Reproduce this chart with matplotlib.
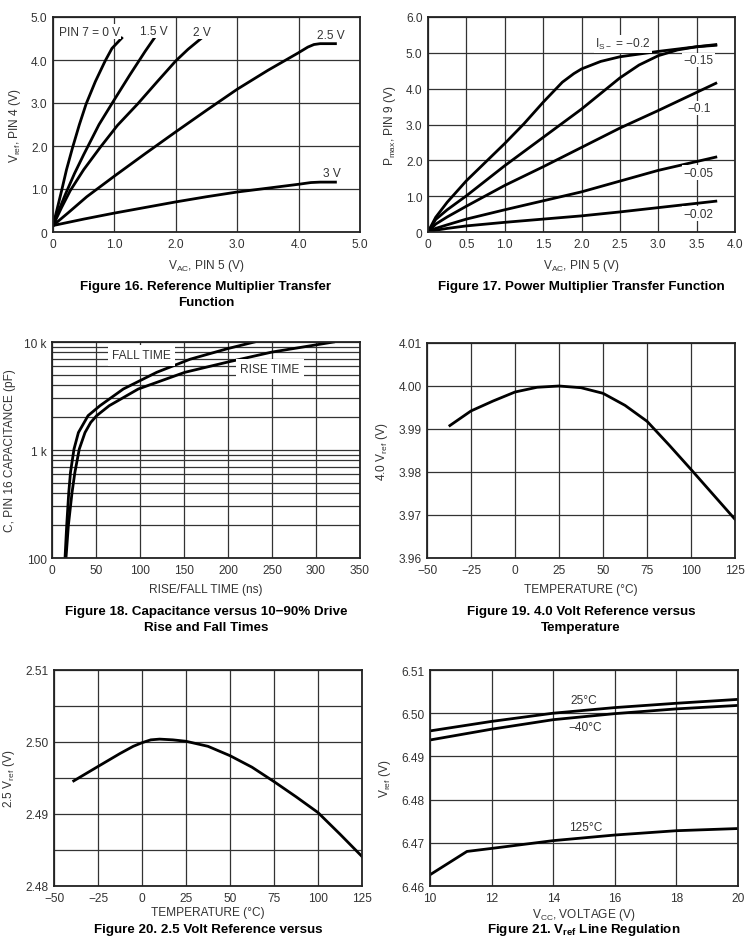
import matplotlib
matplotlib.use('Agg')
import matplotlib.pyplot as plt
import numpy as np

plt.rcParams['font.family'] = ['Liberation Sans', 'DejaVu Sans']
plt.rcParams['mathtext.fontset'] = 'custom'
plt.rcParams['mathtext.rm'] = 'Liberation Sans'
plt.rcParams['mathtext.default'] = 'regular'

# ---- Figure 16: reference multiplier ----
f16_x0 = [0, 0.07, 0.14, 0.22, 0.32, 0.43, 0.54, 0.69, 0.85, 0.96, 1.12]
f16_y0 = [0.15, 0.55, 0.96, 1.45, 1.97, 2.5, 2.98, 3.5, 3.98, 4.27, 4.51]
f16_x15 = [0, 0.1, 0.2, 0.35, 0.5, 0.75, 1.0, 1.25, 1.5, 1.65]
f16_y15 = [0.15, 0.52, 0.87, 1.36, 1.8, 2.5, 3.08, 3.65, 4.2, 4.51]
f16_x2 = [0, 0.14, 0.28, 0.5, 0.77, 1.05, 1.38, 1.7, 2.0, 2.2, 2.42]
f16_y2 = [0.15, 0.57, 0.96, 1.45, 1.97, 2.48, 2.98, 3.5, 3.98, 4.25, 4.51]
f16_x25 = [0, 0.25, 0.55, 1.0, 1.5, 2.0, 2.5, 3.0, 3.5, 4.0, 4.15, 4.25, 4.35, 4.6]
f16_y25 = [0.15, 0.45, 0.82, 1.3, 1.82, 2.33, 2.83, 3.32, 3.76, 4.17, 4.3, 4.36, 4.38, 4.38]
f16_x3 = [0, 0.5, 1.0, 1.5, 2.0, 2.5, 3.0, 3.5, 4.0, 4.2, 4.35, 4.6]
f16_y3 = [0.15, 0.3, 0.44, 0.57, 0.7, 0.82, 0.93, 1.02, 1.11, 1.15, 1.16, 1.16]
f16_labels = ['PIN 7 = 0 V', '1.5 V', '2 V', '2.5 V', '3 V']
f16_lab_x = [0.59, 1.64, 2.42, 4.53, 4.54]
f16_lab_y = [4.66, 4.68, 4.66, 4.58, 1.38]

# ---- Figure 17: power multiplier ----
f17_x02 = [0, 0.1, 0.25, 0.5, 0.75, 1.0, 1.25, 1.5, 1.75, 1.9, 2.0, 2.25, 2.5, 3.0, 3.5, 3.75]
f17_y02 = [0, 0.41, 0.83, 1.43, 1.95, 2.47, 3.02, 3.62, 4.18, 4.42, 4.55, 4.76, 4.89, 5.04, 5.17, 5.23]
f17_x015 = [0, 0.1, 0.25, 0.5, 1.0, 1.5, 2.0, 2.5, 2.75, 3.0, 3.25, 3.5, 3.75]
f17_y015 = [0, 0.35, 0.62, 1.01, 1.85, 2.64, 3.43, 4.3, 4.66, 4.92, 5.08, 5.17, 5.21]
f17_x01 = [0, 0.1, 0.25, 0.5, 1.0, 1.5, 2.0, 2.5, 3.0, 3.75]
f17_y01 = [0, 0.22, 0.42, 0.72, 1.3, 1.82, 2.36, 2.9, 3.39, 4.15]
f17_x005 = [0, 0.1, 0.25, 0.5, 1.0, 1.5, 2.0, 2.5, 3.0, 3.75]
f17_y005 = [0, 0.1, 0.2, 0.36, 0.62, 0.87, 1.12, 1.42, 1.72, 2.09]
f17_x002 = [0, 0.1, 0.25, 0.5, 1.0, 1.5, 2.0, 2.5, 3.0, 3.75]
f17_y002 = [0, 0.05, 0.1, 0.17, 0.27, 0.36, 0.45, 0.56, 0.68, 0.86]
f17_labels = ['I$_{S\u2212}$ = \u22120.2', '\u22120.15', '\u22120.1', '\u22120.05', '\u22120.02']
f17_lab_x = [2.54, 3.52, 3.53, 3.52, 3.52]
f17_lab_y = [5.26, 4.80, 3.46, 1.65, 0.51]

# ---- Figure 18: capacitance vs rise/fall ----
f18_fall_t = [14.8, 16.7, 19, 21, 25, 30, 41, 54.5, 81, 119, 157, 200, 230]
f18_fall_c = [100, 200, 400, 620, 1020, 1450, 2080, 2570, 3670, 5240, 6930, 8700, 10000]
f18_rise_t = [15.9, 18.6, 22.7, 26, 31, 37.5, 44, 50.8, 65, 98, 151, 200, 250, 320]
f18_rise_c = [100, 200, 400, 620, 1020, 1450, 1800, 2080, 2570, 3670, 5240, 6530, 8070, 10000]

# ---- Figure 19: 4.0 V reference vs temperature ----
f19_t = [-37, -25, -12.5, 0, 12.5, 25, 37.5, 50, 62.5, 75, 87.5, 100, 112.5, 125]
f19_v = [3.9908, 3.9942, 3.9965, 3.9986, 3.9997, 4.0000, 3.9996, 3.9983,
         3.9955, 3.9918, 3.9863, 3.9806, 3.9748, 3.969]

# ---- Figure 20: 2.5 V reference vs temperature ----
f20_t = [-38.8, -25, -12.5, -5, 0, 5, 10, 17.5, 25, 37.5, 50, 62.5, 75, 87.5, 100, 112.5, 125]
f20_v = [2.4946, 2.4966, 2.4984, 2.4994, 2.4999, 2.5003, 2.5004, 2.5003, 2.5001, 2.4994,
         2.4981, 2.4965, 2.4945, 2.4924, 2.4902, 2.4872, 2.4841]

# ---- Figure 21: Vref line regulation ----
f21_vcc = [10, 12, 14, 16, 18, 20]
f21_25c = [6.4959, 6.4981, 6.5000, 6.5013, 6.5023, 6.5032]
f21_m40c = [6.4938, 6.4963, 6.4985, 6.4999, 6.5010, 6.5018]
f21_vcc125 = [10, 10.6, 11.2, 12, 14, 16, 18, 20]
f21_125c = [6.4626, 6.4653, 6.4680, 6.4687, 6.4705, 6.4718, 6.4728, 6.4733]

W, H = 750, 937
fig = plt.figure(figsize=(W / 100, H / 100), dpi=100)

TICK = 8.6
LAB = 8.6
CAP = 9.6
GRAY = '#333333'


def make_ax(l, r, t, b):
    ax = fig.add_axes([l / W, 1 - b / H, (r - l) / W, (b - t) / H])
    ax.tick_params(length=0, pad=4, labelsize=TICK, colors=GRAY)
    for s in ax.spines.values():
        s.set_linewidth(1.3)
        s.set_color('#222222')
    ax.grid(True, color='#333333', lw=0.9)
    ax.set_axisbelow(True)
    return ax


def caption(x, y, txt, va='center'):
    fig.text(x / W, 1 - y / H, txt, ha='center', va=va,
             fontsize=CAP, fontweight='bold')


box = dict(facecolor='white', edgecolor='none', pad=1)

# Figure 16
ax = make_ax(53, 360, 18, 233)
for xs, ys in [(f16_x0, f16_y0), (f16_x15, f16_y15), (f16_x2, f16_y2),
               (f16_x25, f16_y25), (f16_x3, f16_y3)]:
    ax.plot(xs, ys, color='black', lw=2)
for t, x, y in zip(f16_labels, f16_lab_x, f16_lab_y):
    ax.text(x, y, t, ha='center', va='center', fontsize=TICK, color=GRAY, bbox=box)
ax.set_xlim(0, 5)
ax.set_ylim(0, 5)
ax.set_xticks(np.arange(0, 5.1, 1.0), ['0', '1.0', '2.0', '3.0', '4.0', '5.0'])
ax.set_yticks(np.arange(0, 5.1, 1.0), ['0', '1.0', '2.0', '3.0', '4.0', '5.0'])
ax.set_xlabel('V$_{AC}$, PIN 5 (V)', fontsize=LAB, color=GRAY, labelpad=5)
ax.set_ylabel('V$_{ref}$, PIN 4 (V)', fontsize=LAB, color=GRAY, labelpad=6)
caption(206, 287, 'Figure 16. Reference Multiplier Transfer')
caption(206, 303, 'Function')

# Figure 17
ax = make_ax(428, 735, 18, 233)
for xs, ys in [(f17_x02, f17_y02), (f17_x015, f17_y015), (f17_x01, f17_y01),
               (f17_x005, f17_y005), (f17_x002, f17_y002)]:
    ax.plot(xs, ys, color='black', lw=2)
for t, x, y in zip(f17_labels, f17_lab_x, f17_lab_y):
    ax.text(x, y, t, ha='center', va='center', fontsize=TICK, color=GRAY, bbox=box)
ax.set_xlim(0, 4)
ax.set_ylim(0, 6)
ax.set_xticks(np.arange(0, 4.01, 0.5),
              ['0', '0.5', '1.0', '1.5', '2.0', '2.5', '3.0', '3.5', '4.0'])
ax.set_yticks(np.arange(0, 6.1, 1.0), ['0', '1.0', '2.0', '3.0', '4.0', '5.0', '6.0'])
ax.set_xlabel('V$_{AC}$, PIN 5 (V)', fontsize=LAB, color=GRAY, labelpad=5)
ax.set_ylabel('P$_{max}$, PIN 9 (V)', fontsize=LAB, color=GRAY, labelpad=6)
caption(581, 287, 'Figure 17. Power Multiplier Transfer Function')

# Figure 18
ax = make_ax(52, 360, 343, 559)
ax.set_yscale('log')
ax.plot(f18_fall_t, f18_fall_c, color='black', lw=2)
ax.plot(f18_rise_t, f18_rise_c, color='black', lw=2)
ax.text(101.6, 7520, 'FALL TIME', ha='center', va='center', fontsize=TICK,
        color=GRAY, bbox=dict(facecolor='white', edgecolor='none', pad=3))
ax.text(247.6, 5660, 'RISE TIME', ha='center', va='center', fontsize=TICK,
        color=GRAY, bbox=dict(facecolor='white', edgecolor='none', pad=3))
ax.set_xlim(0, 350)
ax.set_ylim(100, 10000)
ax.set_xticks(np.arange(0, 351, 50))
ax.set_yticks([100, 1000, 10000], ['100', '1 k', '10 k'])
ax.set_yticks([m * d for d in [100, 1000] for m in range(2, 10)], minor=True)
ax.yaxis.set_minor_formatter(matplotlib.ticker.NullFormatter())
ax.tick_params(which='minor', length=0)
ax.grid(True, which='minor', axis='y', color='#333333', lw=0.9)
ax.set_xlabel('RISE/FALL TIME (ns)', fontsize=LAB, color=GRAY, labelpad=5)
ax.set_ylabel('C, PIN 16 CAPACITANCE (pF)', fontsize=LAB, color=GRAY, labelpad=6)
caption(206, 612, 'Figure 18. Capacitance versus 10\u221290% Drive')
caption(206, 628, 'Rise and Fall Times')

# Figure 19
ax = make_ax(427, 735, 344, 559)
ax.plot(f19_t, f19_v, color='black', lw=2)
ax.set_xlim(-50, 125)
ax.set_ylim(3.96, 4.01)
ax.set_xticks(np.arange(-50, 126, 25))
ax.set_yticks([3.96, 3.97, 3.98, 3.99, 4.00, 4.01],
              ['3.96', '3.97', '3.98', '3.99', '4.00', '4.01'])
ax.set_xlabel('TEMPERATURE (\u00b0C)', fontsize=LAB, color=GRAY, labelpad=5)
ax.set_ylabel('4.0 V$_{ref}$ (V)', fontsize=LAB, color=GRAY, labelpad=6)
caption(581, 612, 'Figure 19. 4.0 Volt Reference versus')
caption(581, 628, 'Temperature')

# Figure 20
ax = make_ax(54, 362, 671, 887)
ax.plot(f20_t, f20_v, color='black', lw=2)
ax.set_xlim(-50, 125)
ax.set_ylim(2.48, 2.51)
ax.set_xticks(np.arange(-50, 126, 25))
ax.set_yticks([2.48, 2.49, 2.50, 2.51], ['2.48', '2.49', '2.50', '2.51'])
ax.set_yticks([2.485, 2.495, 2.505], minor=True)
ax.tick_params(which='minor', length=0)
ax.grid(True, which='minor', axis='y', color='#333333', lw=0.9)
ax.set_xlabel('TEMPERATURE (\u00b0C)', fontsize=LAB, color=GRAY, labelpad=2)
ax.set_ylabel('2.5 V$_{ref}$ (V)', fontsize=LAB, color=GRAY, labelpad=6)
caption(208, 933.5, 'Figure 20. 2.5 Volt Reference versus', va='baseline')

# Figure 21
ax = make_ax(430, 738, 671, 887)
ax.plot(f21_vcc, f21_25c, color='black', lw=2)
ax.plot(f21_vcc, f21_m40c, color='black', lw=2)
ax.plot(f21_vcc125, f21_125c, color='black', lw=2)
ax.text(15.0, 6.5030, '25\u00b0C', ha='center', va='center', fontsize=TICK, color=GRAY)
ax.text(15.03, 6.4967, '\u221240\u00b0C', ha='center', va='center', fontsize=TICK, color=GRAY)
ax.text(15.06, 6.4737, '125\u00b0C', ha='center', va='center', fontsize=TICK, color=GRAY)
ax.set_xlim(10, 20)
ax.set_ylim(6.46, 6.51)
ax.set_xticks(np.arange(10, 21, 2))
ax.set_yticks([6.46, 6.47, 6.48, 6.49, 6.50, 6.51],
              ['6.46', '6.47', '6.48', '6.49', '6.50', '6.51'])
ax.set_xlabel('V$_{CC}$, VOLTAGE (V)', fontsize=LAB, color=GRAY, labelpad=2)
ax.set_ylabel('V$_{ref}$ (V)', fontsize=LAB, color=GRAY, labelpad=6)
caption(584, 933.5, 'Figure 21. V$_{ref}$ Line Regulation', va='baseline')

fig.savefig('out.png', dpi=100)
